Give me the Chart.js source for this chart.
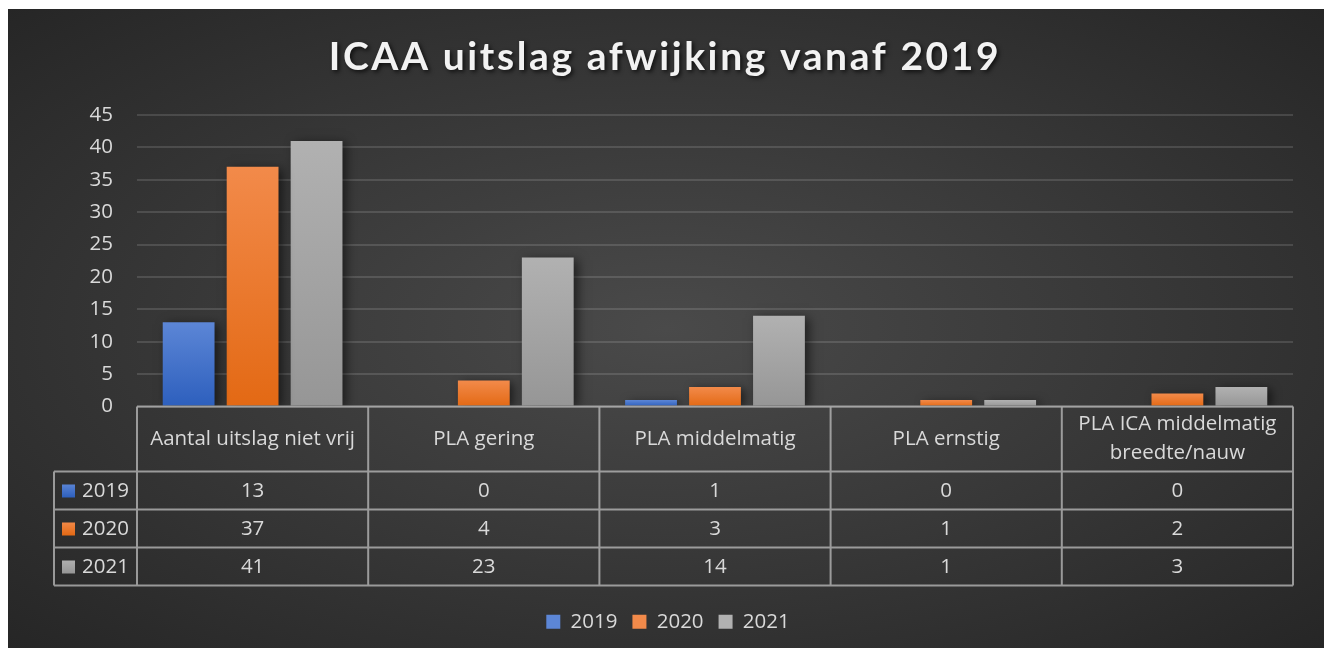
<!DOCTYPE html>
<html>
<head>
<meta charset="utf-8">
<script src="https://cdn.jsdelivr.net/npm/chart.js@4.4.1/dist/chart.umd.min.js"></script>
<style>
    html, body { margin: 0; padding: 0; background: #fff; }
    #kader {
        position: absolute; left: 8px; top: 9px; width: 1316px; height: 639px;
        background: radial-gradient(ellipse at 50% 50%, #4a4a4a 0%, #3a3a3a 45%, #262626 100%);
    }
    #grafiek { display: block; }
</style>
</head>
<body>
<div id="kader"><canvas id="grafiek" width="1316" height="639"></canvas></div>
<script>
// Gegevens van de grafiek
const titel = 'ICAA uitslag afwijking vanaf 2019';
const categorieen = ['Aantal uitslag niet vrij', 'PLA gering', 'PLA middelmatig', 'PLA ernstig', ['PLA ICA middelmatig', 'breedte/nauw']];
const jaren = ['2019', '2020', '2021'];
const waarden2019 = [13, 0, 1, 0, 0];
const waarden2020 = [37, 4, 3, 1, 2];
const waarden2021 = [41, 23, 14, 1, 3];
const yMax = 45;
const yStap = 5;

const FONT = '"Open Sans", Lato, sans-serif';
const TITELFONT = 'Lato, "Open Sans", sans-serif';
const GROOTTE = 20.5;
const TEKST = '#d9d9d9';

// kleurverloop per balk (boven licht, onder donker)
const kleuren = [
    ['#5c86d6', '#2d5fbd'],
    ['#f28a4a', '#e36914'],
    ['#b1b1b1', '#969696']
];

function verloop(boven, onder) {
    return function (context) {
        const chart = context.chart;
        if (!chart.chartArea || context.type !== 'data') return onder;
        const y = chart.scales.y;
        const yTop = y.getPixelForValue(context.raw);
        const yBase = y.getPixelForValue(0);
        if (yBase - yTop < 1) return onder;
        const g = chart.ctx.createLinearGradient(0, yTop, 0, yBase);
        g.addColorStop(0, boven);
        g.addColorStop(1, onder);
        return g;
    };
}

// schaduw onder de balken
const schaduwPlugin = {
    id: 'schaduw',
    beforeDatasetDraw(chart) {
        const ctx = chart.ctx;
        ctx.save();
        ctx.shadowColor = 'rgba(0,0,0,0.55)';
        ctx.shadowBlur = 10;
        ctx.shadowOffsetX = 4;
        ctx.shadowOffsetY = 2;
    },
    afterDatasetDraw(chart) {
        chart.ctx.restore();
    }
};

// titel met letterafstand
const titelPlugin = {
    id: 'titel',
    afterDraw(chart) {
        const ctx = chart.ctx;
        ctx.save();
        ctx.font = 'bold 39px ' + TITELFONT;
        ctx.letterSpacing = '2.6px';
        ctx.fillStyle = '#f2f2f2';
        ctx.textAlign = 'center';
        ctx.textBaseline = 'middle';
        ctx.shadowColor = 'rgba(0,0,0,0.7)';
        ctx.shadowBlur = 4;
        ctx.shadowOffsetX = 2;
        ctx.shadowOffsetY = 2;
        ctx.fillText(titel, chart.width / 2 - 1, 48);
        ctx.restore();
    }
};

// gegevenstabel onder de grafiek
const tabelPlugin = {
    id: 'tabel',
    afterDraw(chart) {
        const ctx = chart.ctx;
        const area = chart.chartArea;
        const x = chart.scales.x;
        const n = categorieen.length;
        const kolom = area.width / n;
        const kopHoogte = 65;
        const rij = 38;
        const links = area.left - 83;
        const top = area.bottom;
        const onder = top + kopHoogte + rij * jaren.length;

        ctx.save();
        ctx.strokeStyle = 'rgba(190,190,190,0.75)';
        ctx.lineWidth = 2;
        ctx.beginPath();
        // horizontale lijnen
        ctx.moveTo(area.left, top); ctx.lineTo(area.right, top);
        for (let r = 0; r <= jaren.length; r++) {
            const yy = top + kopHoogte + r * rij;
            ctx.moveTo(links, yy); ctx.lineTo(area.right, yy);
        }
        // verticale lijnen
        ctx.moveTo(links, top + kopHoogte); ctx.lineTo(links, onder);
        for (let c = 0; c <= n; c++) {
            const xx = area.left + c * kolom;
            ctx.moveTo(xx, top); ctx.lineTo(xx, onder);
        }
        ctx.stroke();

        ctx.fillStyle = TEKST;
        ctx.font = GROOTTE + 'px ' + FONT;
        ctx.textAlign = 'center';
        ctx.textBaseline = 'middle';
        categorieen.forEach((cat, i) => {
            const cx = x.getPixelForValue(i);
            const regels = Array.isArray(cat) ? cat : [cat];
            regels.forEach((regel, j) => {
                const cy = top + kopHoogte / 2 + (j - (regels.length - 1) / 2) * 29;
                ctx.fillText(regel, cx, cy);
            });
        });

        chart.data.datasets.forEach((ds, r) => {
            const cy = top + kopHoogte + r * rij + rij / 2;
            ds.data.forEach((v, i) => {
                ctx.textAlign = 'center';
                ctx.fillText(String(v), x.getPixelForValue(i), cy + 1);
            });
            // legendasleutel in de eerste kolom
            const g = ctx.createLinearGradient(0, cy - 7, 0, cy + 7);
            g.addColorStop(0, kleuren[r][0]);
            g.addColorStop(1, kleuren[r][1]);
            ctx.fillStyle = g;
            ctx.fillRect(links + 8, cy - 6, 13, 13);
            ctx.fillStyle = TEKST;
            ctx.textAlign = 'left';
            ctx.fillText(ds.label, links + 28, cy + 1);
        });
        ctx.restore();
    }
};

const reeksen = [waarden2019, waarden2020, waarden2021];

new Chart(document.getElementById('grafiek'), {
    type: 'bar',
    data: {
        labels: categorieen,
        datasets: jaren.map((jaar, i) => ({
            label: jaar,
            data: reeksen[i],
            backgroundColor: verloop(kleuren[i][0], kleuren[i][1]),
            borderWidth: 0,
            categoryPercentage: 0.83,
            barPercentage: 0.81
        }))
    },
    options: {
        responsive: false,
        animation: false,
        layout: {
            padding: { top: 106, right: 31, bottom: 6, left: 35 }
        },
        plugins: {
            title: { display: false },
            tooltip: { enabled: false },
            legend: {
                position: 'bottom',
                labels: {
                    color: TEKST,
                    font: { family: FONT, size: GROOTTE },
                    boxWidth: 14,
                    boxHeight: 14,
                    padding: 15,
                    generateLabels(chart) {
                        return chart.data.datasets.map((ds, i) => ({
                            text: ds.label,
                            fillStyle: kleuren[i][0],
                            strokeStyle: 'rgba(0,0,0,0)',
                            lineWidth: 0,
                            fontColor: TEKST,
                            datasetIndex: i
                        }));
                    }
                }
            }
        },
        scales: {
            x: {
                grid: { display: false },
                border: { display: false },
                ticks: { display: false },
                afterFit(scale) { scale.height = 190; }
            },
            y: {
                min: 0,
                max: yMax,
                ticks: {
                    stepSize: yStap,
                    color: TEKST,
                    font: { family: FONT, size: GROOTTE },
                    padding: 24
                },
                grid: {
                    color: 'rgba(255,255,255,0.13)',
                    lineWidth: 2,
                    drawTicks: false
                },
                border: { display: false },
                afterFit(scale) { scale.width = 94; }
            }
        }
    },
    plugins: [schaduwPlugin, tabelPlugin, titelPlugin]
});
</script>
</body>
</html>
